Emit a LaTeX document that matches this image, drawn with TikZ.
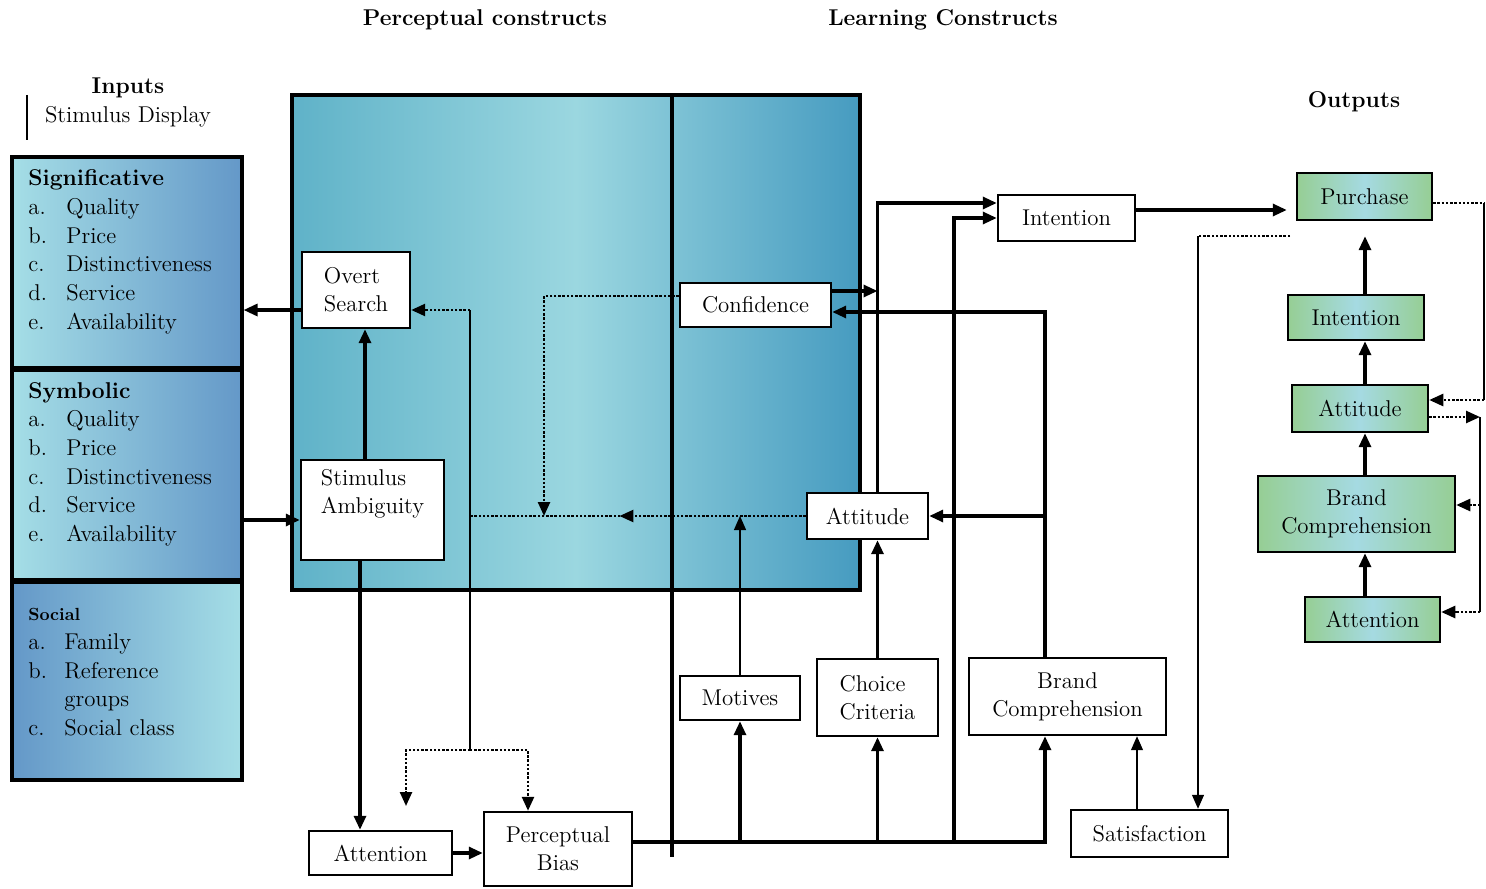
\documentclass[tikz,border=0pt]{standalone}
\usepackage{fontspec}
\usetikzlibrary{arrows.meta,decorations.markings}
\definecolor{inlight}{RGB}{165,222,230}
\definecolor{indark}{RGB}{100,152,200}
\definecolor{bigedge}{RGB}{95,178,200}
\definecolor{bigmid}{RGB}{155,215,224}
\definecolor{bigright}{RGB}{70,155,192}
\definecolor{outcyan}{RGB}{165,218,226}
\definecolor{outgreen}{RGB}{150,206,148}
\begin{document}
\begin{tikzpicture}[x=0.2mm, y=-0.2mm,
  every node/.style={font=\fontsize{13}{16}\selectfont},
  head/.style={font=\fontsize{13}{16}\selectfont\bfseries},
  item/.style={anchor=base west, inner sep=0pt},
  box/.style={draw, fill=white, line width=1.4pt, inner sep=2pt, align=center},
  outbox/.style={draw, line width=1.4pt, inner sep=2pt, align=center,
    left color=outgreen, right color=outgreen, middle color=outcyan},
  inbox/.style={draw, line width=1.8pt, minimum width=46mm, inner sep=0pt},
  tip/.style={-{Triangle[length=2.8mm,width=2.4mm]}},
  ln/.style={line width=1.8pt},
  arr/.style={ln, tip},
  fine/.style={line width=0.7pt},
  finearr/.style={fine, tip},
  dotln/.style={line width=1.4pt, densely dotted},
  dotarr/.style={dotln, tip}]
\useasboundingbox (0,0) rectangle (1486,889);

% headings
\node[head] (hperc) at (485,20) {Perceptual constructs};
\node[head] (hlearn) at (943,20) {Learning Constructs};
\node[head] (hin) at (128,88) {Inputs};
\node (hdisp) at (128,117) {Stimulus Display};
\draw[line width=1pt] (27,95) -- (27,140);
\node[head] (hout) at (1354,102) {Outputs};

% stimulus display
\node[inbox, minimum height=42.2mm, left color=inlight, right color=indark] (sig) at (127,262.5) {};
\node[inbox, minimum height=42mm, left color=inlight, right color=indark] (sym) at (127,475) {};
\node[inbox, minimum height=39.6mm, left color=indark, right color=inlight] (soc) at (127,681) {};
\node[item, font=\fontsize{13}{16}\selectfont\bfseries] (sigh) at (28,186) {Significative};
\foreach \l/\t [count=\i] in {a./Quality, b./Price, c./Distinctiveness, d./Service, e./Availability}{
  \node[item] (sigl\i) at (28,{186+28.6*\i}) {\l};
  \node[item] (sigt\i) at (66,{186+28.6*\i}) {\t};
}
\node[item, font=\fontsize{13}{16}\selectfont\bfseries] (symh) at (28,398) {Symbolic};
\foreach \l/\t [count=\i] in {a./Quality, b./Price, c./Distinctiveness, d./Service, e./Availability}{
  \node[item] (syml\i) at (28,{398+28.7*\i}) {\l};
  \node[item] (symt\i) at (66,{398+28.7*\i}) {\t};
}
\node[item, font=\fontsize{10}{12}\selectfont\bfseries] (soch) at (28,620) {Social};
\node[item] (socl1) at (28,649) {a.};
\node[item] (soct1) at (64,649) {Family};
\node[item] (socl2) at (28,678) {b.};
\node[item] (soct2) at (64,678) {Reference};
\node[item] (soct3) at (64,706) {groups};
\node[item] (socl3) at (28,735) {c.};
\node[item] (soct4) at (64,735) {Social class};

% perceptual and learning constructs
\node[draw, line width=1.8pt, minimum width=113.6mm, minimum height=99mm, inner sep=0pt,
  left color=bigedge, right color=bigright, middle color=bigmid] (pc) at (576,342.5) {};
\coordinate (div) at (672,857);
\draw[ln] (pc.north -| div) -- (div);

\node[box, align=left, minimum width=21.6mm, minimum height=15.2mm] (ovs) at (356,290) {Overt\\Search};
\node[box, align=left, minimum width=28.6mm, minimum height=20mm] (sam) at (372.5,510) {Stimulus\\Ambiguity\\\strut};
\node[box, minimum width=30.2mm, minimum height=8.8mm] (conf) at (755.5,305) {Confidence};
\node[box, minimum width=24.2mm, minimum height=9.2mm] (attm) at (867.5,516) {Attitude};
\node[box, minimum width=27.4mm, minimum height=9.2mm] (intm) at (1066.5,218) {Intention};
\node[box, minimum width=24mm, minimum height=8.8mm] (mot) at (740,698) {Motives};
\node[box, align=left, minimum width=24.2mm, minimum height=15.4mm] (cc) at (877.5,697.5) {Choice\\Criteria};
\node[box, minimum width=39.4mm, minimum height=15.4mm] (bcm) at (1067.5,696.5) {Brand\\Comprehension};
\node[box, minimum width=31.4mm, minimum height=9.4mm] (sat) at (1149.5,833.5) {Satisfaction};
\node[box, minimum width=28.6mm, minimum height=8.8mm] (att) at (380.5,853) {Attention};
\node[box, minimum width=29.6mm, minimum height=14.8mm] (pb) at (558,849) {Perceptual\\Bias};

% outputs
\node[outbox, minimum width=27mm, minimum height=9.4mm] (pur) at (1364.5,196.5) {Purchase};
\node[outbox, minimum width=27.2mm, minimum height=9mm] (into) at (1356,317.5) {Intention};
\node[outbox, minimum width=27.2mm, minimum height=9.4mm] (atto) at (1360,408.5) {Attitude};
\node[outbox, minimum width=39.4mm, minimum height=15.2mm] (bco) at (1356.5,514) {Brand\\Comprehension};
\node[outbox, minimum width=27mm, minimum height=9mm] (atno) at (1372.5,619.5) {Attention};

% perceptual links
\draw[arr] ([yshift=-4mm]ovs.west) -- ([yshift=-4mm]sig.east |- ovs.west);
\draw[arr] ([yshift=-2mm]sym.east |- sam.west) -- ([yshift=-2mm]sam.west);
\draw[arr] ([xshift=-1.5mm]sam.north) -- ([xshift=-1.5mm]sam.north |- ovs.south);
\draw[arr] ([xshift=-2.5mm]sam.south) -- ([xshift=-2.5mm]sam.south |- att.north);
\draw[arr] (att.east) -- (att.east -| pb.west);

% feedback to search, attention and bias
\coordinate (ovsfb) at ([yshift=-4mm]ovs.east);
\coordinate (split) at (470,750);
\coordinate (attin) at (406,806);
\draw[fine] (split) -- (split |- ovsfb);
\draw[dotarr] (split |- ovsfb) -- (ovsfb);
\draw[dotarr] (split) -| (attin);
\draw[dotarr] (split) -| ([xshift=-6mm]pb.north);

% feedback from attitude and confidence
\coordinate (cfdrop) at (544,0);
\draw[dotln, postaction={decorate}, decoration={markings,
  mark=at position 0.555 with {\arrow{Triangle[length=2.8mm,width=2.4mm]}}}]
  (attm.west) -- (split |- attm.west);
\draw[dotarr] ([yshift=1.8mm]conf.west) -| (attm.west -| cfdrop);
\draw[finearr] (mot.north) -- (mot.north |- attm.west);

% learning links
\coordinate (busL) at ([yshift=1.4mm]pb.east);
\coordinate (tapI) at (954,0);
\draw[arr] (busL) -| ([xshift=-4.5mm]bcm.south);
\draw[arr] (busL -| mot) -- (mot.south);
\draw[arr] (busL -| cc) -- (cc.south);
\draw[arr] (busL -| tapI) |- (intm.west);
\draw[arr] (cc.north) -- (cc.north |- attm.south);
\draw[arr] (cc.north |- attm.north) |- ([yshift=3mm]intm.west);
\draw[arr] ([yshift=2.8mm]conf.east) -- ([yshift=2.8mm]conf.east -| cc.north);
\coordinate (bcup) at ([xshift=-4.5mm]bcm.north);
\draw[arr] (bcup) |- ([yshift=-1.4mm]conf.east);
\draw[arr] (bcup |- attm.east) -- (attm.east);
\draw[arr, shorten >=1.8mm] ([yshift=1.6mm]intm.east) -- ([yshift=1.6mm]intm.east -| pur.west);

% satisfaction
\coordinate (purfb) at (1290,236);
\coordinate (sdrop) at ([xshift=9.7mm]sat.north);
\draw[dotln] (purfb) -- (purfb -| sdrop);
\draw[finearr] (purfb -| sdrop) -- (sdrop);
\draw[finearr] ([xshift=-2.5mm]sat.north) -- ([xshift=-2.5mm]sat.north |- bcm.south);

% output chain
\coordinate (oc) at (1365,0);
\draw[arr] (atno.north -| oc) -- (bco.south -| oc);
\draw[arr] (bco.north -| oc) -- (atto.south -| oc);
\draw[arr] (atto.north -| oc) -- (into.south -| oc);
\draw[arr, shorten >=3mm] (into.north -| oc) -- (pur.south -| oc);

% output feedback
\coordinate (rim) at (1484,0);
\coordinate (rim2) at (1480,0);
\coordinate (pfb) at ([yshift=-1.3mm]pur.east);
\coordinate (afb) at ([yshift=1.7mm]atto.east);
\coordinate (aout) at ([yshift=-1.7mm]atto.east);
\coordinate (bfb) at ([yshift=1.8mm]bco.east);
\coordinate (nfb) at ([yshift=1.5mm]atno.east);
\draw[dotln] (pfb) -- (pfb -| rim);
\draw[fine] (pfb -| rim) -- (afb -| rim);
\draw[dotarr] (afb -| rim) -- (afb);
\draw[dotarr] (aout) -- (aout -| rim2);
\draw[fine] (aout -| rim2) -- (nfb -| rim2);
\draw[dotarr] (bfb -| rim2) -- (bfb);
\draw[dotarr] (nfb -| rim2) -- (nfb);
\end{tikzpicture}
\end{document}
